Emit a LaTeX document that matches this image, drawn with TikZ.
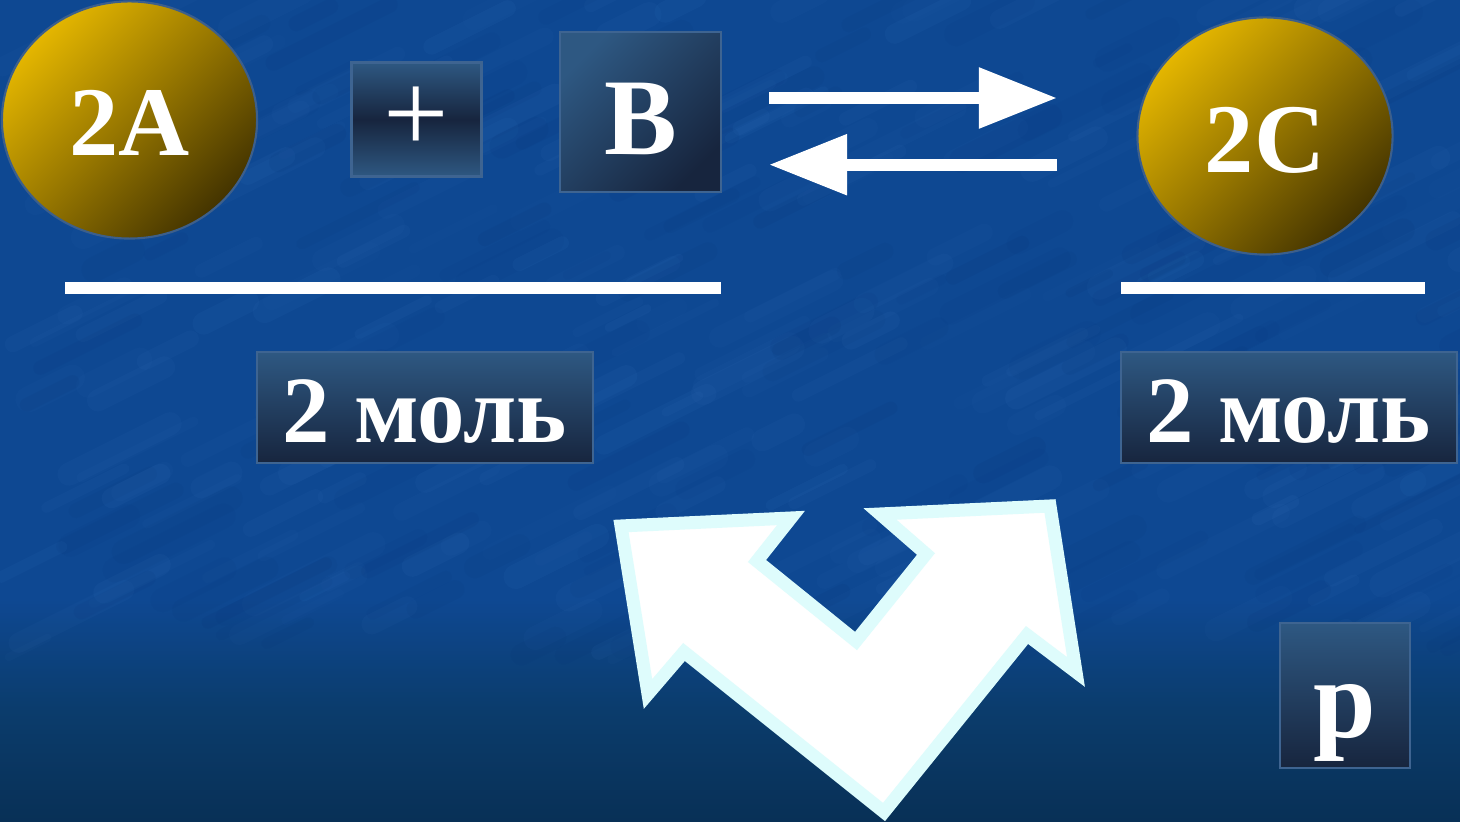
\documentclass[tikz,border=0pt]{standalone}
\usepackage{fontspec}
\setmainfont{Liberation Serif}
\usetikzlibrary{shapes.geometric,arrows.meta}
\definecolor{bgA}{RGB}{14,72,146}
\definecolor{bgC}{RGB}{11,60,108}
\definecolor{bgD}{RGB}{8,48,86}
\definecolor{goldA}{RGB}{228,182,0}
\definecolor{goldB}{RGB}{150,118,0}
\definecolor{goldC}{RGB}{68,52,0}
\definecolor{ballrim}{RGB}{60,95,140}
\definecolor{tileA}{RGB}{46,88,130}
\definecolor{tileB}{RGB}{23,37,62}
\definecolor{tilerim}{RGB}{62,100,145}
\definecolor{arrowrim}{RGB}{222,252,252}
\definecolor{streak}{RGB}{80,140,215}
\definecolor{shadowblue}{RGB}{5,45,110}
\begin{document}
\begin{tikzpicture}[x=0.01cm,y=-0.01cm,
  ball/.style={ellipse, minimum width=2.55cm, minimum height=2.37cm, inner sep=0pt,
    draw=ballrim, line width=0.6pt, top color=goldA, bottom color=goldC, middle color=goldB,
    shading angle=45, text=white, font=\bfseries\fontsize{28}{30}\selectfont, text depth=0pt},
  tile/.style={rectangle, inner sep=0pt, draw=tilerim, line width=0.6pt, text=white,
    font=\bfseries\fontsize{27}{30}\selectfont, text depth=0pt},
  vshade/.style={top color=tileA, bottom color=tileB},
  mshade/.style={top color=tileA, bottom color=tileA, middle color=tileB},
  dshade/.style={top color=tileA, bottom color=tileB, shading angle=45},
  bar/.style={white, line width=0.12cm},
  eqarrow/.style={white, line width=0.12cm, -{Triangle[length=0.78cm,width=0.58cm]}},
  bigarrow/.style={fill=white, draw=arrowrim, line width=0.13cm, line join=miter},
  texture/.style={line cap=round}
]
\useasboundingbox (0,0) rectangle (1460,822);
% background
\fill[bgA] (0,0) rectangle (1460,600);
\shade[top color=bgA, bottom color=bgD, middle color=bgC] (0,599) rectangle (1460,822);
% soft mottled texture
\pgfmathsetseed{11}
\foreach \i in {1,...,260} {
  \pgfmathsetmacro{\tx}{rnd*1460}
  \pgfmathsetmacro{\ty}{rnd*660}
  \pgfmathsetmacro{\tl}{30+rnd*90}
  \pgfmathsetmacro{\tw}{8+rnd*18}
  \pgfmathsetmacro{\to}{0.025+rnd*0.04}
  \draw[texture, streak, line width=\tw*0.01cm, opacity=\to] (\tx,\ty) -- ++(\tl,-0.5*\tl);
}
\foreach \i in {1,...,160} {
  \pgfmathsetmacro{\tx}{rnd*1460}
  \pgfmathsetmacro{\ty}{rnd*660}
  \pgfmathsetmacro{\tl}{30+rnd*90}
  \pgfmathsetmacro{\tw}{8+rnd*18}
  \pgfmathsetmacro{\to}{0.04+rnd*0.05}
  \draw[texture, shadowblue, line width=\tw*0.01cm, opacity=\to] (\tx,\ty) -- ++(\tl,-0.5*\tl);
}

% reactants and product
\node[ball, text height=0.70cm] (a) at (129.5,120) {2A};
\node[ball, text height=0.72cm] (c) at (1265,136) {2C};
\node[tile, mshade, minimum width=1.30cm, minimum height=1.14cm, text height=0.66cm,
  font=\mdseries\fontsize{33}{35}\selectfont] (plus) at (416.5,119.5) {+};
\node[tile, dshade, minimum width=1.61cm, minimum height=1.60cm, text height=0.84cm,
  font=\bfseries\fontsize{31}{33}\selectfont] (b) at (640.5,112) {B};

% equilibrium arrows
\coordinate (fwdS) at (769,98);
\coordinate (fwdE) at (1057,98);
\coordinate (revS) at (1057,164.7);
\coordinate (revE) at (769,164.7);
\draw[eqarrow] (fwdS) -- (fwdE);
\draw[eqarrow] (revS) -- (revE);

% fraction bars
\coordinate (barL1) at (65,288);
\coordinate (barL2) at (721,288);
\coordinate (barR1) at (1121,288);
\coordinate (barR2) at (1425,288);
\draw[bar] (barL1) -- (barL2);
\draw[bar] (barR1) -- (barR2);

% mole boxes
\node[tile, vshade, minimum width=3.36cm, minimum height=1.11cm, text height=0.69cm] (ml) at (425,407.5) {2 моль};
\node[tile, vshade, minimum width=3.36cm, minimum height=1.11cm, text height=0.69cm] (mr) at (1289,407.5) {2 моль};

% pressure box
\node[tile, vshade, minimum width=1.30cm, minimum height=1.45cm, text height=0.83cm,
  font=\bfseries\fontsize{32}{34}\selectfont] (p) at (1345,695.5) {p};

% big double bent arrow
\draw[bigarrow] (621,526) -- (791,518) -- (757,561) -- (856,641) -- (926,554) -- (880,514)
  -- (1050,506) -- (1076,672) -- (1027,635) -- (884,812) -- (684,652) -- (648,694) -- cycle;
\end{tikzpicture}
\end{document}
